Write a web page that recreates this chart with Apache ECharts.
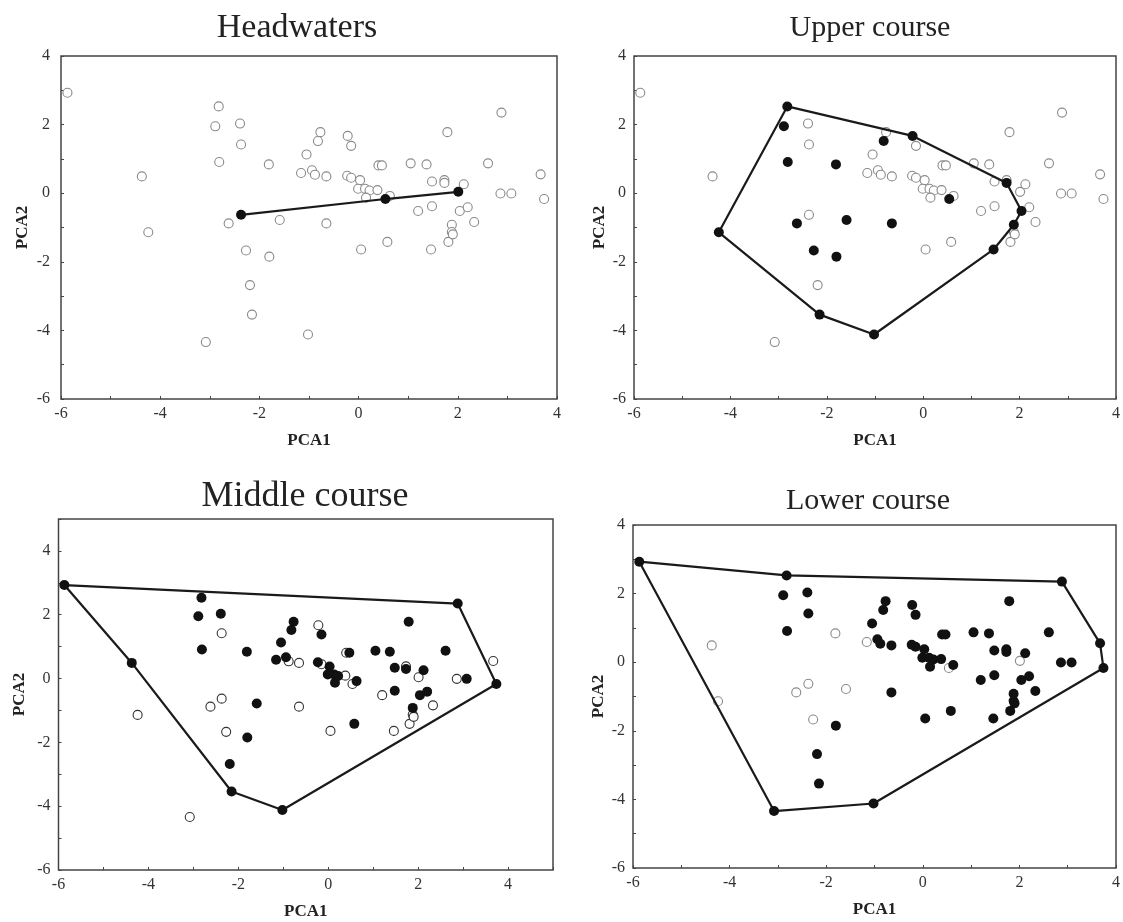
<!DOCTYPE html>
<html>
<head>
<meta charset="utf-8">
<script src="https://cdn.jsdelivr.net/npm/echarts@6/dist/echarts.min.js"></script>
<style>html,body{margin:0;padding:0;background:#fff;}#c{width:1123px;height:922px;}</style>
</head>
<body>
<div id="c"></div>
<script>
// Site scores (same set of sites in all four panels), site numbers 1..66
const pca1 = [-5.87,-2.82,-2.89,-2.39,-2.37,-2.81,-4.37,-4.24,-1.81,-2.62,
  -2.37,-2.27,-1.80,-2.19,-2.15,-3.08,-1.02,-1.59,-0.65,-1.05,
  -0.77,-0.82,-1.16,-0.94,-0.88,-0.65,-0.22,-0.15,-0.23,-0.15,
  0.03,-0.01,0.13,0.22,0.38,0.15,0.40,0.47,0.54,0.63,
  0.05,0.58,1.05,1.37,1.48,1.73,1.73,1.79,1.20,1.48,
  1.46,1.81,1.88,1.88,1.90,2.01,2.12,2.04,2.20,2.33,
  2.61,2.88,2.86,3.08,3.67,3.74];
const pca2 = [2.93,2.53,1.95,2.03,1.42,0.91,0.49,-1.14,0.84,-0.88,
  -0.63,-1.67,-1.85,-2.68,-3.54,-4.34,-4.12,-0.78,-0.88,1.13,
  1.78,1.52,0.59,0.67,0.54,0.49,1.67,1.38,0.51,0.45,
  0.38,0.13,0.13,0.08,0.09,-0.13,0.81,0.81,-0.17,-0.08,
  -1.64,-1.42,0.87,0.84,0.34,0.38,0.30,1.78,-0.52,-0.38,
  -1.64,-1.42,-0.92,-1.13,-1.20,0.04,0.26,-0.52,-0.41,-0.84,
  0.87,2.35,-0.01,-0.01,0.55,-0.17];

const panelTitles = ['Headwaters','Upper course','Middle course','Lower course'];
const allSites = pca1.map((_, i) => i + 1);
const headFilled = [11,39,56];
const headHull = [11,39,56];
const upperFilled = [2,3,6,8,9,10,12,13,15,17,18,19,22,27,39,47,51,53,58];
const upperHull = [2,27,47,58,53,51,17,15,8,2];
const middleFilled = [1,2,3,4,6,7,9,13,14,15,17,18,20,21,22,23,24,28,29,31,32,33,34,36,38,40,42,43,44,45,47,48,50,53,57,58,59,61,62,64,66];
const middleHull = [1,62,66,17,15,7,1];
const lowerOpen = [7,8,9,10,11,12,18,23,39,56];
const lowerFilled = allSites.filter(s => lowerOpen.indexOf(s) < 0);
const lowerHull = [1,2,62,65,66,17,16,1];

const xTicks = [-6,-4,-2,0,2,4];
const yTicks = [-6,-4,-2,0,2,4];

const filledSets = [headFilled, upperFilled, middleFilled, lowerFilled];
const hulls = [headHull, upperHull, middleHull, lowerHull];
const axisMax = [[4,4],[4,4],[5,5],[4,4]];

const grids = [
  {left:61, top:56, width:496, height:343},
  {left:634, top:56, width:482, height:343},
  {left:58.5, top:519, width:494.5, height:351},
  {left:633, top:525, width:483, height:343}
];
const titlePos = [[297,28],[870,28],[305,497],[868,501]];
const titleSize = [34,30,36,30];
const yNameGap = [30,26,30,26];
const yLabelMargin = [11,8,8,8];
const openColor = ['#8a8a8a','#8a8a8a','#333','#8a8a8a'];

const serif = '"Liberation Serif","DejaVu Serif",serif';
const pt = s => [pca1[s-1], pca2[s-1]];

const option = {
  backgroundColor:'#fff',
  animation:false,
  grid: grids.map(g => Object.assign({show:true, borderColor:'#444', borderWidth:1.5, backgroundColor:'rgba(0,0,0,0)'}, g)),
  xAxis: grids.map((g,i) => ({
    type:'value', gridIndex:i, min:-6, max:axisMax[i][0], interval:1,
    name:'PCA1', nameLocation:'middle', nameGap:33,
    nameTextStyle:{fontFamily:serif, fontWeight:'bold', fontSize:17, color:'#222'},
    axisLine:{show:false, onZero:false}, splitLine:{show:false},
    axisTick:{show:true, inside:true, length:3, lineStyle:{color:'#444'}},
    axisLabel:{fontFamily:serif, fontSize:16, color:'#333', margin:7,
      formatter: v => xTicks.indexOf(v) >= 0 ? String(v) : ''}
  })),
  yAxis: grids.map((g,i) => ({
    type:'value', gridIndex:i, min:-6, max:axisMax[i][1], interval:1,
    name:'PCA2', nameLocation:'middle', nameGap:yNameGap[i],
    nameTextStyle:{fontFamily:serif, fontWeight:'bold', fontSize:17, color:'#222'},
    axisLine:{show:false, onZero:false}, splitLine:{show:false},
    axisTick:{show:true, inside:true, length:3, lineStyle:{color:'#444'}},
    axisLabel:{fontFamily:serif, fontSize:16, color:'#333', margin:yLabelMargin[i],
      formatter: v => yTicks.indexOf(v) >= 0 ? String(v) : ''}
  })),
  graphic: panelTitles.map((t,i) => ({
    type:'text', x:titlePos[i][0], y:titlePos[i][1],
    style:{text:t, font:titleSize[i] + 'px ' + serif, fill:'#222', textAlign:'center', textVerticalAlign:'middle'}
  })),
  series: []
};

filledSets.forEach((filled, i) => {
  const open = allSites.filter(s => filled.indexOf(s) < 0);
  option.series.push({
    type:'scatter', xAxisIndex:i, yAxisIndex:i, symbol:'circle', symbolSize:9,
    itemStyle:{color:'#fff', borderColor:openColor[i], borderWidth:1.1, opacity:1},
    data: open.map(pt), z:2
  });
  option.series.push({
    type:'line', xAxisIndex:i, yAxisIndex:i, showSymbol:false, symbol:'none',
    lineStyle:{color:'#1a1a1a', width:2.2}, data: hulls[i].map(pt), z:3
  });
  option.series.push({
    type:'scatter', xAxisIndex:i, yAxisIndex:i, symbol:'circle', symbolSize:10,
    itemStyle:{color:'#111', opacity:1},
    data: filled.map(pt), z:4
  });
});

const chart = echarts.init(document.getElementById('c'), null, {renderer:'canvas'});
chart.setOption(option);
</script>
</body>
</html>
